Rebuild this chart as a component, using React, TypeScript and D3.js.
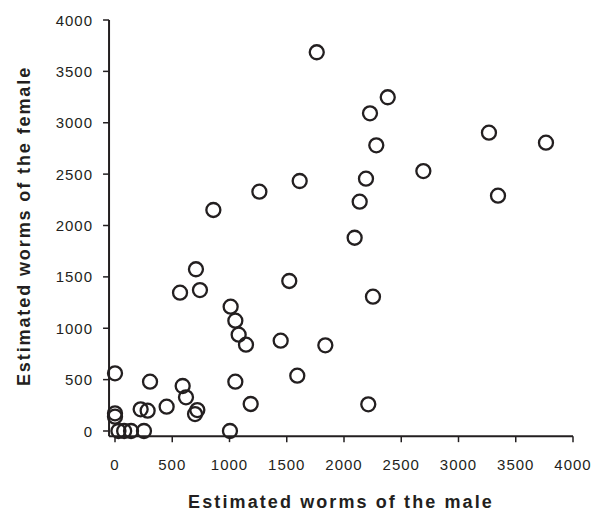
import React from "react";
import * as d3 from "d3";

const maleWorms = [0, 0, 0, 30, 80, 140, 253, 224, 285, 306, 451, 591, 620, 719, 699, 568, 707, 742, 859, 1004, 1010, 1051, 1080, 1144, 1051, 1185, 1261, 1447, 1522, 1592, 1613, 1762, 1837, 2093, 2137, 2192, 2227, 2212, 2253, 2282, 2382, 2693, 3266, 3345, 3764];
const femaleWorms = [561, 172, 139, 0, 0, 0, 0, 211, 198, 480, 237, 438, 328, 204, 165, 1346, 1574, 1372, 2151, 0, 1210, 1074, 937, 840, 480, 263, 2329, 879, 1460, 538, 2433, 3686, 834, 1881, 2232, 2456, 3092, 260, 1307, 2780, 3248, 2530, 2903, 2290, 2806];
const xTicks = [0, 500, 1000, 1500, 2000, 2500, 3000, 3500, 4000];
const yTicks = [0, 500, 1000, 1500, 2000, 2500, 3000, 3500, 4000];

const W = 593;
const H = 512;
const font = "'Liberation Sans', Arial, sans-serif";
const ink = "#231f20";

export default function App() {
  const x = d3.scaleLinear().domain([0, 4000]).range([115, 573]);
  const y = d3.scaleLinear().domain([0, 4000]).range([431, 20]);
  const x0 = x(-52);
  const y0 = y(-50);
  return (
    <svg width={W} height={H} style={{ position: "absolute", left: 0, top: 0, background: "#fff" }}>
      <rect width={W} height={H} fill="#fff" />
      {/* axes */}
      <line x1={x0} x2={x(4000)} y1={y0} y2={y0} stroke={ink} strokeWidth={2} />
      <line x1={x0} x2={x0} y1={y0} y2={y(4000)} stroke={ink} strokeWidth={2} />
      {xTicks.map((t) => (
        <g key={"x" + t}>
          <line x1={x(t)} x2={x(t)} y1={y0} y2={y0 + 6} stroke={ink} strokeWidth={1.5} />
          <text x={x(t)} y={470} textAnchor="middle" fontFamily={font} fontSize={15} letterSpacing={1} fill={ink}>
            {t}
          </text>
        </g>
      ))}
      {yTicks.map((t) => (
        <g key={"y" + t}>
          <line x1={x0 - 6} x2={x0} y1={y(t)} y2={y(t)} stroke={ink} strokeWidth={1.5} />
          <text x={93} y={y(t) + 5.5} textAnchor="end" fontFamily={font} fontSize={15} letterSpacing={1} fill={ink}>
            {t}
          </text>
        </g>
      ))}
      {maleWorms.map((m, i) => (
        <circle key={i} cx={x(m)} cy={y(femaleWorms[i])} r={7} fill="none" stroke={ink} strokeWidth={2.3} />
      ))}
      <text x={341} y={508} textAnchor="middle" fontFamily={font} fontSize={18} fontWeight="bold" letterSpacing={2.1} fill={ink}>
        Estimated worms of the male
      </text>
      <text
        transform={`translate(30, 226) rotate(-90)`}
        textAnchor="middle"
        fontFamily={font}
        fontSize={18}
        fontWeight="bold"
        letterSpacing={1.9}
        fill={ink}
      >
        Estimated worms of the female
      </text>
    </svg>
  );
}
